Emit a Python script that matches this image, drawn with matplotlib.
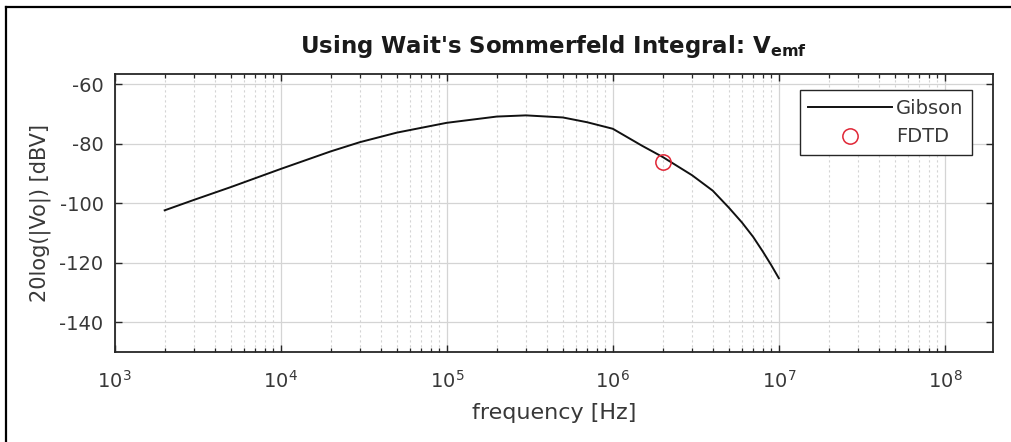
import matplotlib
matplotlib.use("Agg")
import matplotlib.pyplot as plt
from matplotlib.lines import Line2D
from matplotlib.ticker import LogLocator, FixedLocator, NullLocator

plt.rcParams['font.family'] = ['DejaVu Sans']
plt.rcParams['mathtext.fontset'] = 'dejavusans'
plt.rcParams['axes.unicode_minus'] = False

# ---- data ----
gibson_freq = [2e3, 3e3, 5e3, 1e4, 2e4, 3e4, 5e4, 1e5, 2e5, 3e5, 5e5, 7e5,
               1e6, 1.5e6, 2e6, 3e6, 4e6, 5e6, 6e6, 7e6, 8e6, 9e6, 1e7]
gibson_db = [-102.4, -98.9, -94.6, -88.5, -82.6, -79.5, -76.3, -73.0, -70.9,
             -70.5, -71.2, -72.8, -75.0, -80.7, -84.5, -90.6, -95.8, -101.5,
             -106.5, -111.3, -116.2, -120.8, -125.2]
fdtd_freq = [2e6]
fdtd_db = [-86.0]
y_ticks = [-140, -120, -100, -80, -60]
series_labels = ["Gibson", "FDTD"]

W, H = 1011, 442
fig = plt.figure(figsize=(W / 100, H / 100), dpi=100)
fig.patch.set_facecolor("white")

left, right, top, bottom = 114.7, 993, 74, 352
ax = fig.add_axes([left / W, 1 - bottom / H, (right - left) / W, (bottom - top) / H])

txt_col = "#383838"
ax.plot(gibson_freq, gibson_db, color="#111111", lw=1.4, label=series_labels[0])
ax.plot(fdtd_freq, fdtd_db, linestyle="none", marker="o", markersize=11,
        markerfacecolor="none", markeredgecolor="#e02535", markeredgewidth=1.1,
        label=series_labels[1])

ax.set_xscale("log")
ax.set_xlim(1e3, 1.95e8)
ax.set_ylim(-150, -56.6)
ax.xaxis.set_major_locator(LogLocator(base=10, numticks=20))
ax.xaxis.set_minor_locator(LogLocator(base=10, subs=range(2, 10), numticks=50))
ax.yaxis.set_major_locator(FixedLocator(y_ticks))
ax.yaxis.set_minor_locator(NullLocator())

ax.grid(True, which="major", color="#d4d4d4", lw=0.9, ls="-")
ax.grid(True, which="minor", axis="x", color="#d4d4d4", lw=0.8, ls=(0, (2, 2.5)))
ax.set_axisbelow(True)

ax.tick_params(axis="both", which="major", direction="in", length=5, width=1.0,
               top=True, right=True, labelsize=14, colors="#262626",
               labelcolor=txt_col)
ax.tick_params(axis="x", which="minor", direction="in", length=3, width=0.9,
               top=True, bottom=True, colors="#262626")
ax.tick_params(axis="x", which="major", pad=13)
ax.tick_params(axis="y", which="major", pad=8)

for s in ax.spines.values():
    s.set_linewidth(1.3)
    s.set_color("#262626")

ax.set_xlabel("frequency [Hz]", fontsize=16, color=txt_col, labelpad=8)
ax.set_ylabel("20log(|Vo|) [dBV]", fontsize=15, color=txt_col, labelpad=6)
ax.set_title(r"Using Wait's Sommerfeld Integral: $\mathbf{V}_{\mathbf{emf}}$",
             fontsize=16.5, fontweight="bold", color="#1a1a1a", pad=15)

leg = ax.legend(loc="upper right",
                bbox_to_anchor=((972 - left) / (right - left), 1 - (90 - top) / (bottom - top)),
                borderaxespad=0, fontsize=14, frameon=True, fancybox=False,
                edgecolor="#262626", framealpha=1, handlelength=4.3,
                handletextpad=0.2, labelspacing=0.5, borderpad=0.45)
leg.get_frame().set_linewidth(1.0)
for t in leg.get_texts():
    t.set_color(txt_col)

# figure border (top and left edges of screenshot frame)
fig.add_artist(Line2D([6 / W, 6 / W], [0, 1 - 7 / H], transform=fig.transFigure,
                      color="black", lw=1.6))
fig.add_artist(Line2D([6 / W, 1], [1 - 7 / H, 1 - 7 / H], transform=fig.transFigure,
                      color="black", lw=1.6))

fig.savefig("out.png", dpi=100, facecolor="white")
